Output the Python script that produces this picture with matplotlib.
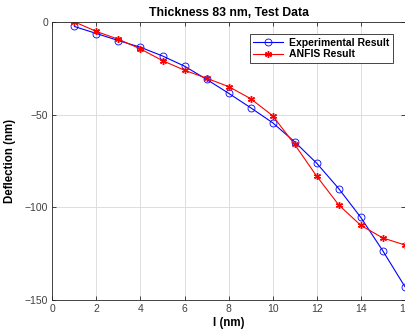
import matplotlib.pyplot as plt

plt.rcParams['font.family'] = ['Liberation Sans', 'DejaVu Sans']

# data
thickness_idx = [1, 2, 3, 4, 5, 6, 7, 8, 9, 10, 11, 12, 13, 14, 15, 16]
experimental = [-2.5, -6.3, -10.1, -13.7, -18.4, -23.9, -31.0, -38.5, -46.3, -54.4,
                -64.7, -76.2, -89.9, -105.4, -123.4, -142.7]
anfis = [0.0, -5.2, -9.4, -14.6, -20.9, -26.1, -30.4, -34.9, -41.4, -50.6,
         -66.1, -83.2, -98.7, -109.7, -116.5, -120.3]
x_ticks = [0, 2, 4, 6, 8, 10, 12, 14, 16]
y_ticks = [0, -50, -100, -150]

fig = plt.figure(figsize=(4.06, 3.36), dpi=100)
ax = fig.add_axes([0.129, 0.107, 0.868, 0.828])

ax.plot(thickness_idx, experimental, color='blue', lw=0.8, marker='o', ms=5,
        mfc='none', mec='blue', mew=0.6, label='Experimental Result')
ax.plot(thickness_idx, anfis, color='red', lw=0.8, marker=(6, 2, 0), ms=5,
        mec='red', mew=1.0, label='ANFIS Result')

ax.set_xlim(0, 16)
ax.set_ylim(-150, 0)
ax.set_xticks(x_ticks)
ax.set_yticks(y_ticks)
ax.grid(True, color='#dddddd', lw=0.7)
ax.set_axisbelow(True)
ax.tick_params(direction='in', length=3, width=0.6, labelsize=7.5,
               colors='#262626', labelcolor='#404040', top=True, right=True, pad=3)
for s in ax.spines.values():
    s.set_color('#262626')
    s.set_linewidth(0.6)

ax.set_title('Thickness 83 nm, Test Data', fontsize=8.8, fontweight='bold', pad=4)
ax.set_xlabel('l (nm)', fontsize=8.3, fontweight='bold', labelpad=2)
ax.set_ylabel('Deflection (nm)', fontsize=8.3, fontweight='bold', labelpad=6)

leg = ax.legend(loc='upper right', prop={'weight': 'bold', 'size': 7.5},
                fancybox=False, edgecolor='#262626', framealpha=1,
                handlelength=2.8, handletextpad=0.6, borderpad=0.35,
                labelspacing=0.15, bbox_to_anchor=(0.981, 0.975))
leg.get_frame().set_linewidth(0.6)

fig.savefig('out.png', dpi=100)
